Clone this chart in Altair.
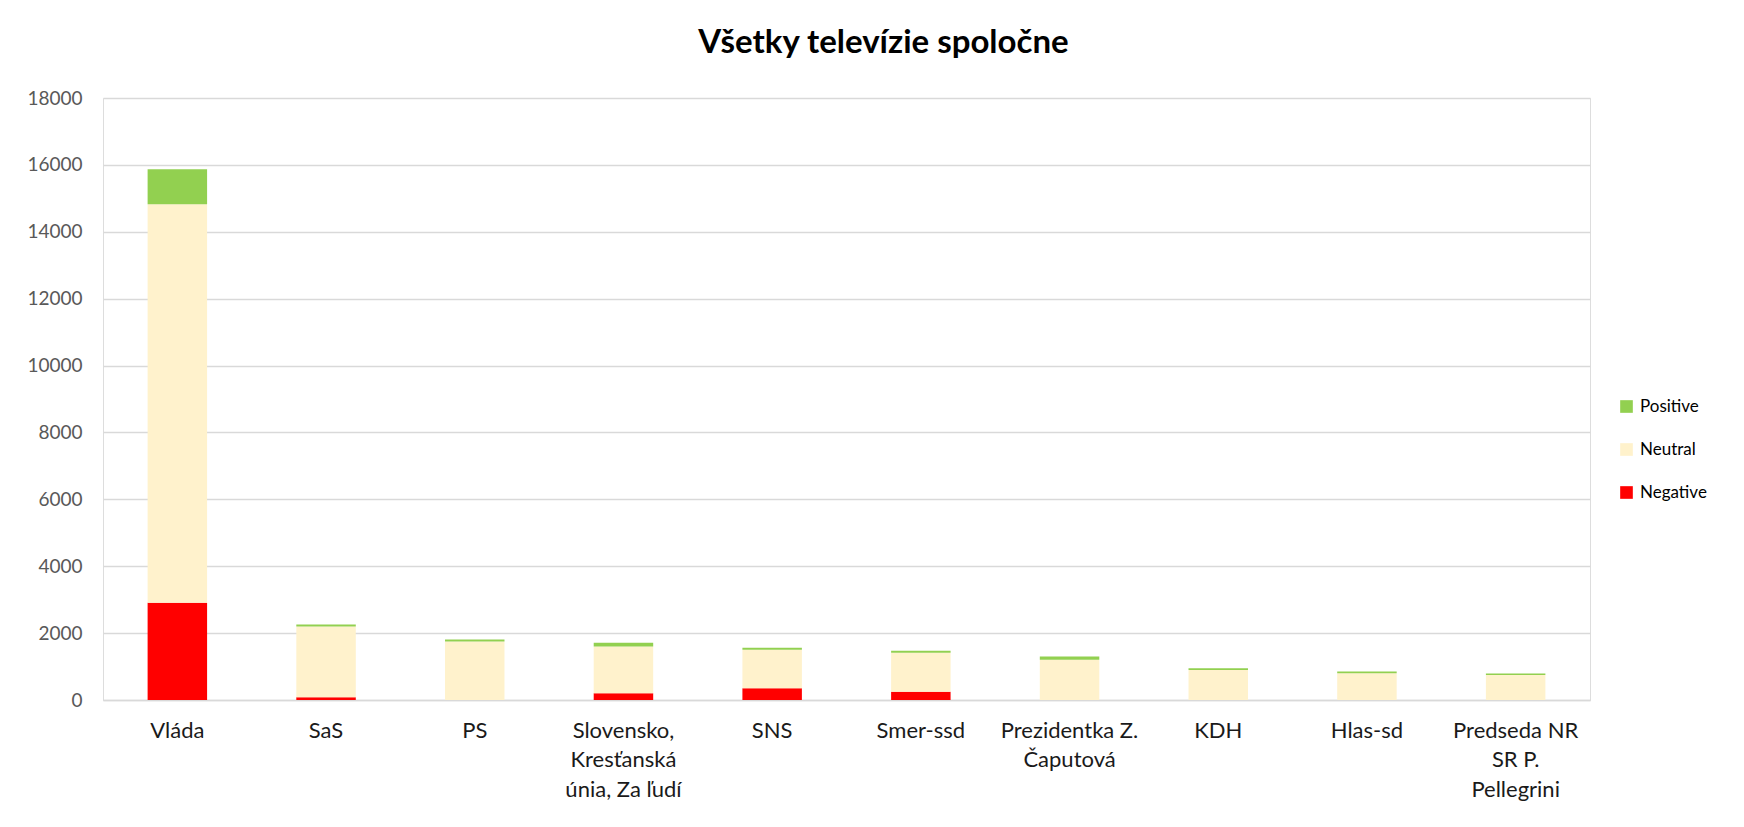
import altair as alt
import pandas as pd

categories = ["Vláda", "SaS", "PS", "Slovensko,|Kresťanská|únia, Za ľudí", "SNS",
              "Smer-ssd", "Prezidentka Z.|Čaputová", "KDH", "Hlas-sd", "Predseda NR|SR P.|Pellegrini"]
negative = [2910, 80, 0, 200, 350, 250, 0, 0, 0, 0]
neutral = [11910, 2120, 1750, 1400, 1150, 1160, 1200, 900, 800, 745]
positive = [1050, 60, 60, 110, 60, 60, 100, 50, 50, 50]

series_names = ["Positive", "Neutral", "Negative"]
series_colors = ["#92D050", "#FFF2CC", "#FF0000"]
y_ticks = list(range(0, 18001, 2000))

rows = []
for i, c in enumerate(categories):
    rows.append({"category": c, "sentiment": "Negative", "value": negative[i], "rank": 0})
    rows.append({"category": c, "sentiment": "Neutral", "value": neutral[i], "rank": 1})
    rows.append({"category": c, "sentiment": "Positive", "value": positive[i], "rank": 2})
df = pd.DataFrame(rows)

FONT = "Lato"

chart = alt.Chart(df).mark_bar().encode(
    x=alt.X("category:N", sort=categories,
            scale=alt.Scale(paddingInner=0.6, paddingOuter=0.3),
            axis=alt.Axis(title=None, labelAngle=0, labelFont=FONT, labelFontSize=22,
                          labelColor="#1a1a1a", labelLineHeight=29.5, labelPadding=20,
                          labelExpr="split(datum.label, '|')", labelLimit=0,
                          ticks=False, domainColor="#D9D9D9", domainWidth=1.5,
                          labelBaseline="top")),
    y=alt.Y("value:Q", stack="zero",
            scale=alt.Scale(domain=[0, 18000], nice=False),
            axis=alt.Axis(title=None, values=y_ticks, format="d", labelFont=FONT,
                          labelFontSize=19, labelColor="#595959", labelPadding=21,
                          ticks=False, domain=False, gridColor="#D9D9D9", gridWidth=1.5)),
    color=alt.Color("sentiment:N",
                    scale=alt.Scale(domain=series_names, range=series_colors),
                    legend=alt.Legend(title=None, orient="none", legendX=1515, legendY=300,
                                      direction="vertical", symbolType="square",
                                      symbolSize=160, symbolStrokeWidth=0,
                                      labelFont=FONT, labelFontSize=17, labelColor="#000000",
                                      labelOffset=5, rowPadding=25, padding=0)),
    order=alt.Order("rank:Q", sort="ascending"),
).properties(
    width=1487,
    height=602,
    padding={"left": 95, "top": 90, "right": 146, "bottom": 127},
    autosize="none",
    title=alt.TitleParams("Všetky televízie spoločne", font=FONT, fontSize=33,
                          fontWeight="bold", color="#000000", anchor="middle",
                          dx=37, dy=44, offset=47, baseline="alphabetic"),
).configure_view(stroke=None).configure(background="white")

chart.save("out.html", embed_options={"renderer": "svg", "actions": False})
